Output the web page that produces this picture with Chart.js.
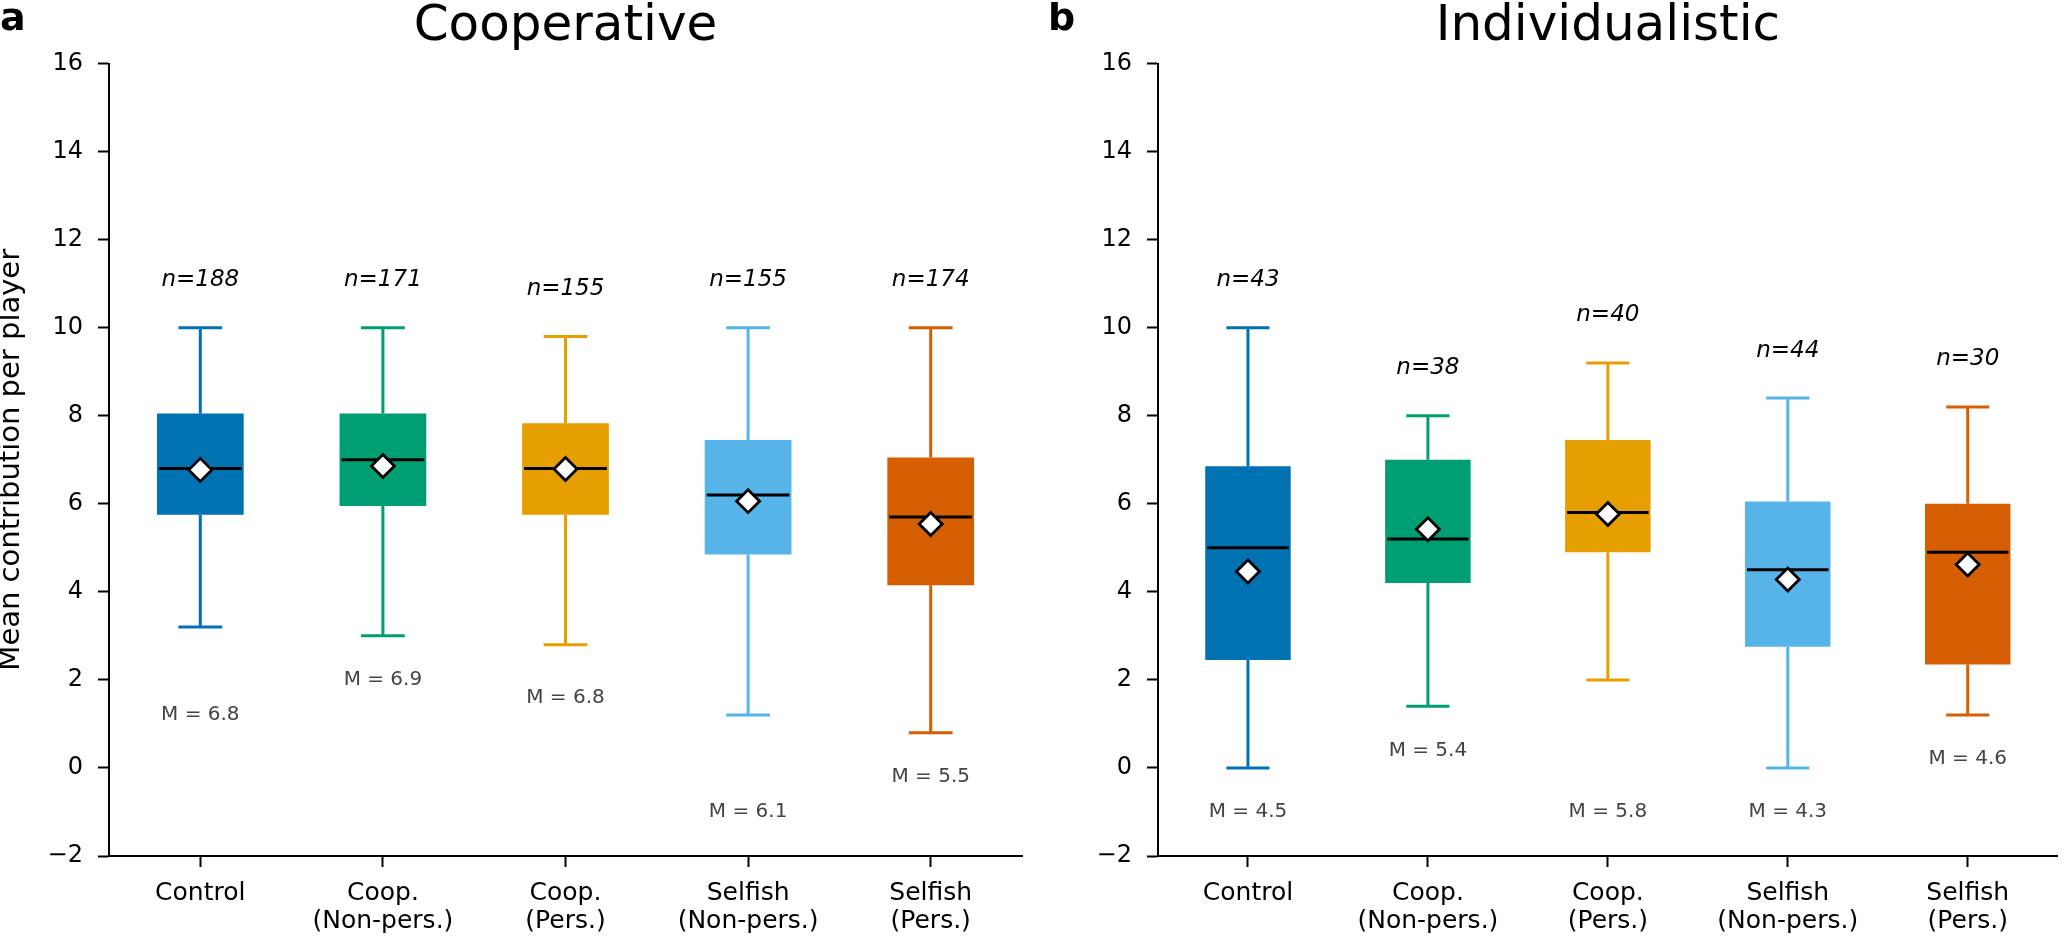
<!DOCTYPE html>
<html>
<head>
<meta charset="utf-8">
<script src="https://cdn.jsdelivr.net/npm/chart.js@4.4.1/dist/chart.umd.min.js"></script>
<style>
  html, body { margin: 0; padding: 0; background: #fff; }
  #wrap { position: relative; width: 2072px; height: 937px; }
  canvas { position: absolute; top: 0; }
</style>
</head>
<body>
<div id="wrap">
  <canvas id="coop" width="1040" height="937" style="left:0"></canvas>
  <canvas id="indiv" width="1032" height="937" style="left:1040px"></canvas>
</div>
<script>
const categories = ['Control', ['Coop.', '(Non-pers.)'], ['Coop.', '(Pers.)'], ['Selfish', '(Non-pers.)'], ['Selfish', '(Pers.)']];
const colors = ['#0072B2', '#009E73', '#E69F00', '#56B4E9', '#D55E00'];

// panel a - cooperative
const coopLow = [3.2, 3.0, 2.8, 1.2, 0.8];
const coopQ1 = [5.75, 5.95, 5.75, 4.85, 4.15];
const coopMedian = [6.8, 7.0, 6.8, 6.2, 5.7];
const coopQ3 = [8.05, 8.05, 7.83, 7.45, 7.05];
const coopHigh = [10, 10, 9.8, 10, 10];
const coopMean = [6.77, 6.86, 6.79, 6.06, 5.54];
const coopN = [188, 171, 155, 155, 174];
const coopMin = [2.2, 3.0, 2.6, 0.0, 0.8];   // lowest value incl. hidden outliers

// panel b - individualistic
const indLow = [0, 1.4, 2.0, 0, 1.2];
const indQ1 = [2.45, 4.2, 4.9, 2.75, 2.35];
const indMedian = [5.0, 5.2, 5.8, 4.5, 4.9];
const indQ3 = [6.85, 7.0, 7.45, 6.05, 6.0];
const indHigh = [10, 8.0, 9.2, 8.4, 8.2];
const indMean = [4.46, 5.42, 5.77, 4.28, 4.62];
const indN = [43, 38, 40, 44, 30];
const indMin = [0, 1.4, 0, 0, 1.2];

const FONT = 'DejaVu Sans';

function boxParts(s) {
  return {
    id: 'boxParts',
    beforeDatasetsDraw(chart) {
      const {ctx, scales: {x, y}} = chart;
      const capHalf = (x.getPixelForValue(1) - x.getPixelForValue(0)) * 0.12;
      ctx.save();
      ctx.lineWidth = 3;
      s.low.forEach((lo, i) => {
        const px = x.getPixelForValue(i);
        ctx.strokeStyle = colors[i];
        ctx.beginPath();
        ctx.moveTo(px, y.getPixelForValue(lo));
        ctx.lineTo(px, y.getPixelForValue(s.q1[i]));
        ctx.moveTo(px, y.getPixelForValue(s.q3[i]));
        ctx.lineTo(px, y.getPixelForValue(s.high[i]));
        ctx.moveTo(px - capHalf, y.getPixelForValue(lo));
        ctx.lineTo(px + capHalf, y.getPixelForValue(lo));
        ctx.moveTo(px - capHalf, y.getPixelForValue(s.high[i]));
        ctx.lineTo(px + capHalf, y.getPixelForValue(s.high[i]));
        ctx.stroke();
      });
      ctx.restore();
    },
    afterDatasetDraw(chart, args) {
      if (args.meta.type !== 'bar') return;
      const {ctx, scales: {y}} = chart;
      ctx.save();
      ctx.strokeStyle = '#000';
      ctx.lineWidth = 3;
      args.meta.data.forEach((bar, i) => {
        const py = y.getPixelForValue(s.median[i]);
        ctx.beginPath();
        ctx.moveTo(bar.x - bar.width / 2 + 2, py);
        ctx.lineTo(bar.x + bar.width / 2 - 2, py);
        ctx.stroke();
      });
      ctx.restore();
    },
    afterDraw(chart) {
      const {ctx, chartArea, scales: {x, y}} = chart;
      ctx.save();
      ctx.fillStyle = '#000';
      ctx.textAlign = 'center';
      ctx.textBaseline = 'alphabetic';
      ctx.font = '50px "' + FONT + '"';
      ctx.fillText(s.title, (chartArea.left + chartArea.right) / 2, 40);
      ctx.textAlign = 'left';
      ctx.font = 'bold 38px "' + FONT + '"';
      ctx.fillText(s.letter, s.letterX, 29.5);
      ctx.textAlign = 'center';
      ctx.textBaseline = 'middle';
      s.n.forEach((n, i) => {
        ctx.fillStyle = '#000';
        ctx.font = 'italic 23px "' + FONT + '"';
        ctx.fillText('n=' + n, x.getPixelForValue(i), y.getPixelForValue(s.high[i] + 1.08));
        ctx.fillStyle = '#444';
        ctx.font = '20px "' + FONT + '"';
        ctx.fillText('M = ' + s.mean[i].toFixed(1), x.getPixelForValue(i), y.getPixelForValue(s.min[i] - 1.0));
      });
      ctx.restore();
    }
  };
}

function makeChart(id, s, yWidth, padRight, yTitle) {
  return new Chart(document.getElementById(id), {
    type: 'bar',
    data: {
      labels: categories,
      datasets: [{
        type: 'line',
        data: s.mean,
        showLine: false,
        pointStyle: 'rectRot',
        pointRadius: 11.5,
        pointBackgroundColor: '#fff',
        pointBorderColor: '#000',
        pointBorderWidth: 2.8,
        order: 1
      }, {
        data: s.q1.map((q, i) => [q, s.q3[i]]),
        backgroundColor: colors,
        borderWidth: 0,
        borderSkipped: false,
        barPercentage: 0.475,
        categoryPercentage: 1,
        order: 2
      }]
    },
    options: {
      responsive: false,
      animation: false,
      devicePixelRatio: 1,
      layout: { padding: { top: 63.5, right: padRight, bottom: 0, left: 0 } },
      plugins: { legend: { display: false }, tooltip: { enabled: false } },
      scales: {
        x: {
          afterFit: (scale) => { scale.height = 81; },
          grid: { offset: false, drawOnChartArea: false, tickLength: 11, tickColor: '#000', tickWidth: 2 },
          border: { color: '#000', width: 2 },
          ticks: { color: '#000', padding: 13, maxRotation: 0, autoSkip: false, font: { family: FONT, size: 25, lineHeight: 1.1 } }
        },
        y: {
          min: -2,
          max: 16,
          afterFit: (scale) => { scale.width = yWidth; },
          grid: { drawOnChartArea: false, tickLength: 11, tickColor: '#000', tickWidth: 2 },
          border: { color: '#000', width: 2 },
          ticks: {
            stepSize: 2, color: '#000', padding: 15,
            font: { family: FONT, size: 24 },
            callback: (v) => (v < 0 ? '\u2212' + Math.abs(v) : String(v))
          },
          title: {
            display: !!yTitle, text: yTitle || '', color: '#000', padding: 0,
            font: { family: FONT, size: 29, lineHeight: 0.82 }
          }
        }
      }
    },
    plugins: [boxParts(s)]
  });
}

makeChart('coop', {
  low: coopLow, q1: coopQ1, median: coopMedian, q3: coopQ3, high: coopHigh,
  mean: coopMean, n: coopN, min: coopMin, title: 'Cooperative', letter: 'a', letterX: 0
}, 109, 18, 'Mean contribution per player');

makeChart('indiv', {
  low: indLow, q1: indQ1, median: indMedian, q3: indQ3, high: indHigh,
  mean: indMean, n: indN, min: indMin, title: 'Individualistic', letter: 'b', letterX: 8
}, 118, 1, null);
</script>
</body>
</html>
